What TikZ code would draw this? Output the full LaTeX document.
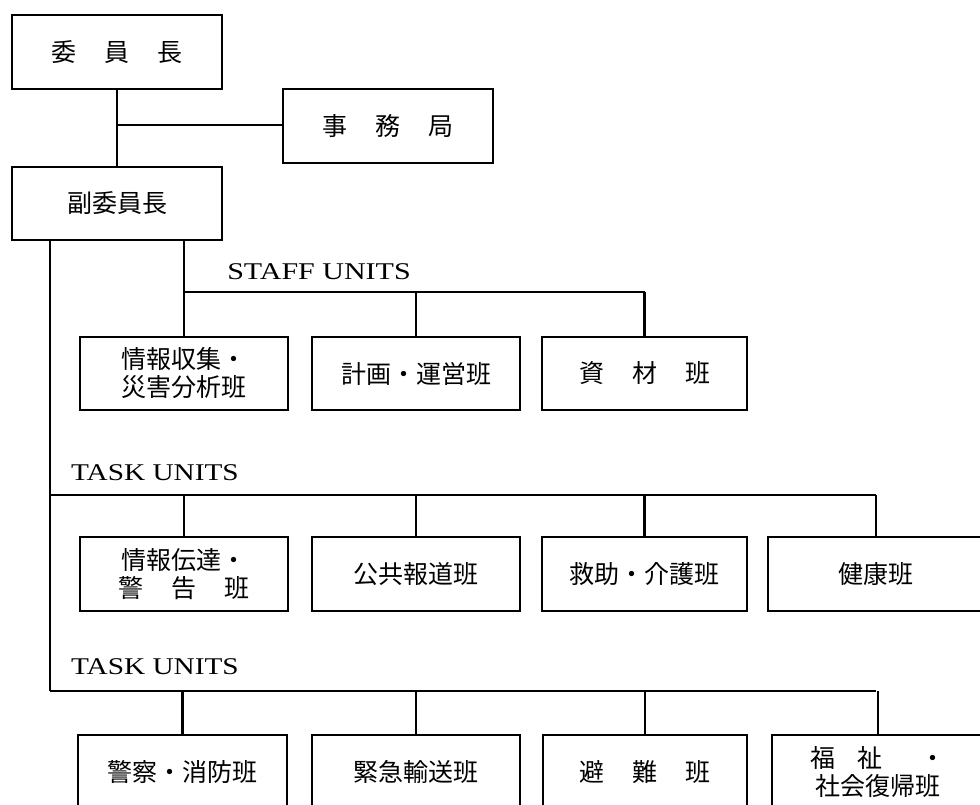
\documentclass[tikz,border=0pt]{standalone}
\usepackage{fontspec}
\usepackage{graphicx}
\setmainfont{Liberation Serif}
\newfontfamily\cjk{Noto Sans CJK JP}
\newcommand\gp{\hspace{28pt}}
\begin{document}
\begin{tikzpicture}[x=1pt,y=-1pt,
  box/.style={draw, line width=1.5pt, inner sep=0pt, align=center,
    font=\cjk\fontsize{25}{28}\selectfont, minimum height=74pt},
  lab/.style={inner sep=0pt, font=\fontsize{24}{26}\selectfont},
  vline/.style={line width=2.2pt},
  hline/.style={line width=1.3pt}]
\useasboundingbox (0,0) rectangle (980,805);
\clip (0,0) rectangle (980,805);
\fill[white] (0,0) rectangle (980,805);
% top
\node[box, minimum width=210pt] (chair) at (117,52) {委\gp 員\gp 長};
\node[box, minimum width=210pt] (sec) at (388,126) {事\gp 務\gp 局};
\node[box, minimum width=210pt, minimum height=73pt] (vice) at (117,203.5) {副委員長};
% staff units
\node[box, minimum width=208pt, minimum height=73pt] (s1) at (184,373.5) {情報収集・\\災害分析班};
\node[box, minimum width=208pt, minimum height=73pt] (s2) at (416,373.5) {計画・運営班};
\node[box, minimum width=205pt, minimum height=73pt] (s3) at (644.5,373.5) {資\gp 材\gp 班};
% task units 1
\node[box, minimum width=208pt] (t1) at (184,574) {情報伝達・\\警\gp 告\gp 班};
\node[box, minimum width=208pt] (t2) at (416,574) {公共報道班};
\node[box, minimum width=205pt] (t3) at (644.5,574) {救助・介護班};
\node[box, minimum width=216pt] (t4) at (876,574) {健康班};
% task units 2
\node[box, minimum width=209pt] (u1) at (182.5,772) {警察・消防班};
\node[box, minimum width=208pt] (u2) at (416,772) {緊急輸送班};
\node[box, minimum width=204pt] (u3) at (645,772) {避\gp 難\gp 班};
\node[box, minimum width=212pt] (u4) at (878,772) {福\hspace{22pt}祉\hspace{38pt}・\\社会復帰班};
% labels
\node[lab] (staffl) at (319,272) {\scalebox{1.25}[1]{STAFF UNITS}};
\node[lab] (task1l) at (155,473) {\scalebox{1.22}[1]{TASK UNITS}};
\node[lab] (task2l) at (155,667) {\scalebox{1.22}[1]{TASK UNITS}};
% connectors top
\draw[vline] (chair.south) -- (vice.north);
\coordinate (j1) at (117,125);
\draw[hline] (j1) -- (j1 -| sec.west);
% spine
\coordinate (spTop) at (50,240);
\coordinate (spBot) at (50,691);
\draw[vline] (spTop) -- (spBot);
% staff
\coordinate (sb) at (0,292);
\draw[vline] (s1.north |- vice.south) -- (s1.north);
\draw[hline] (s1.north |- sb) -- (s3.north |- sb);
\draw[vline] (s2.north |- sb) -- (s2.north);
\draw[vline] (s3.north |- sb) -- (s3.north);
% task bar 1
\coordinate (tb) at (50,495);
\draw[hline] (tb) -- (tb -| t4.north);
\foreach \n in {t1,t2,t3,t4} \draw[vline] (\n.north |- tb) -- (\n.north);
% task bar 2
\coordinate (ub) at (50,691);
\draw[hline] (ub) -- (ub -| t4.north);
\foreach \n in {u1,u2,u3,u4} \draw[vline] (\n.north |- ub) -- (\n.north);
\end{tikzpicture}
\end{document}
